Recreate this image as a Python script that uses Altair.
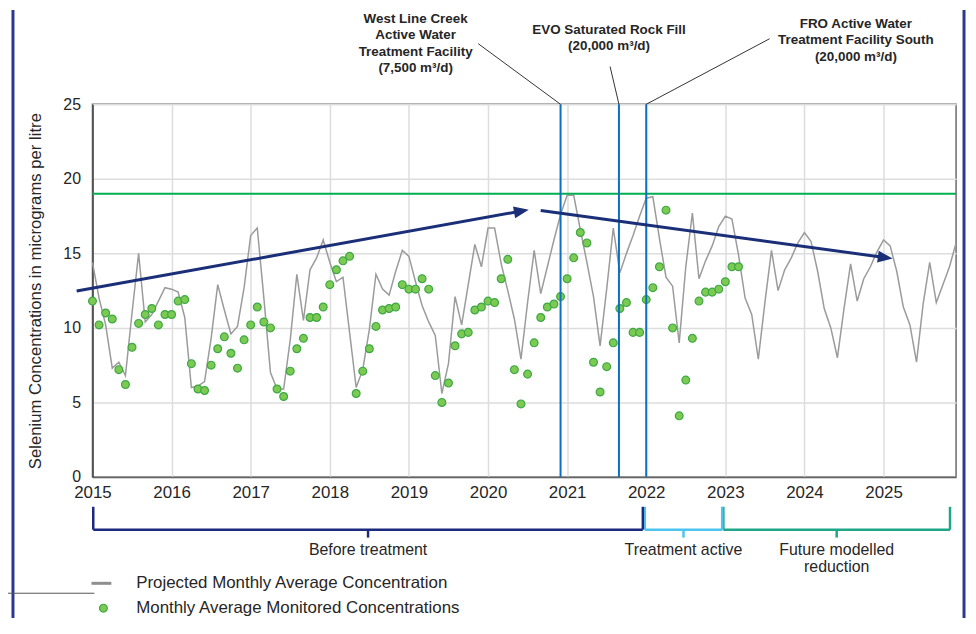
import math
import altair as alt
import pandas as pd

# ---------------- data ----------------
START_YEAR = 2015

projected = [
    14.4, 12.0, 10.2, 7.3, 7.7, 6.8, 11.0, 15.0, 10.4, 10.9, 11.8, 12.7,
    12.6, 12.4, 10.7, 6.0, 6.1, 6.4, 9.3, 12.9, 11.2, 9.6, 10.1, 12.7,
    16.2, 16.7, 12.0, 7.0, 5.9, 5.9, 9.2, 13.6, 10.5, 13.9, 14.7, 15.9,
    14.4, 13.1, 13.4, 9.7, 6.0, 7.2, 9.9, 13.6, 12.6, 12.2, 13.8, 15.2,
    14.8, 13.1, 11.5, 10.4, 9.5, 5.6, 7.6, 12.1, 10.2, 12.9, 15.6, 14.1,
    16.7, 16.7, 14.3, 12.5, 10.6, 7.9, 11.7, 15.2, 12.3, 14.1, 15.9, 17.6,
    18.9, 18.9, 16.6, 14.4, 12.1, 8.8, 12.6, 16.7, 13.7, 15.0, 16.2, 17.5,
    18.7, 18.8, 16.0, 13.4, 12.8, 9.0, 14.1, 17.7, 13.3, 14.5, 15.5, 16.8,
    17.5, 17.3, 14.9, 12.0, 10.9, 7.9, 11.7, 15.2, 12.5, 13.9, 14.7, 15.7,
    16.4, 15.8, 13.8, 11.3, 10.0, 8.0, 11.3, 14.3, 11.8, 13.3, 14.1, 15.1,
    15.9, 15.5, 13.8, 11.4, 10.2, 7.7, 11.6, 14.4, 11.7, 12.9, 14.1, 15.7,
]

monitored = [
    11.8, 10.2, 11.0, 10.6, 7.2, 6.2, 8.7, 10.3, 10.9, 11.3, 10.2, 10.9,
    10.9, 11.8, 11.9, 7.6, 5.9, 5.8, 7.5, 8.6, 9.4, 8.3, 7.3, 9.2,
    10.2, 11.4, 10.4, 10.0, 5.9, 5.4, 7.1, 8.6, 9.3, 10.7, 10.7, 11.4,
    12.9, 13.9, 14.5, 14.8, 5.6, 7.1, 8.6, 10.1, 11.2, 11.3, 11.4, 12.9,
    12.6, 12.6, 13.3, 12.6, 6.8, 5.0, 6.3, 8.8, 9.6, 9.7, 11.2, 11.4,
    11.8, 11.7, 13.3, 14.6, 7.2, 4.9, 6.9, 9.0, 10.7, 11.4, 11.6, 12.1,
    13.3, 14.7, 16.4, 15.7, 7.7, 5.7, 7.4, 9.0, 11.3, 11.7, 9.7, 9.7,
    11.9, 12.7, 14.1, 17.9, 10.0, 4.1, 6.5, 9.3, 11.8, 12.4, 12.4, 12.6,
    13.1, 14.1, 14.1,
]

year_ticks = list(range(2015, 2026))
y_ticks = [0, 5, 10, 15, 20, 25]
threshold = [19]

facility_labels = [
    "West Line Creek\nActive Water\nTreatment Facility\n(7,500 m³/d)",
    "EVO Saturated Rock Fill\n(20,000 m³/d)",
    "FRO Active Water\nTreatment Facility South\n(20,000 m³/d)",
]
facility_dates = [2020.917, 2021.655, 2022.0]
label_x = [2019.085, 2021.53, 2024.65]
label_top = [-93, -82, -88]
leader_x0 = [2019.876, 2021.543, 2023.56]
leader_y0 = [-61, -38, -66]

arrow_tail_x = [2014.80, 2020.666]
arrow_tail_y = [12.47, 17.87]
arrow_tip_x = [2020.515, 2025.115]
arrow_tip_y = [17.93, 14.65]

period_labels = ["Before treatment", "Treatment active", "Future modelled\nreduction"]
period_start = [2015.01, 2021.982, 2022.975]
period_end = [2021.957, 2022.96, 2025.84]
period_colors = ["#1b2a7e", "#4cc4ef", "#1ea688"]

legend_labels = ["Projected Monthly Average Concentration",
                 "Monthly Average Monitored Concentrations"]

# ---------------- geometry ----------------
W, H = 869, 375
x_dom = [START_YEAR, START_YEAR + (len(projected) - 1) / 12]
px_x = W / (x_dom[1] - x_dom[0])
px_y = H / 25.0

NAVY = "#1a2f78"
FONT = "Liberation Sans"
TXT = "#262626"

proj_df = pd.DataFrame({"t": [START_YEAR + i / 12 for i in range(len(projected))],
                        "v": projected})
mon_df = pd.DataFrame({"t": [START_YEAR + i / 12 for i in range(len(monitored))],
                       "v": monitored})

# arrows
arrow_rows = []
for tx, ty, hx, hy in zip(arrow_tail_x, arrow_tail_y, arrow_tip_x, arrow_tip_y):
    dxp = (hx - tx) * px_x
    dyp = -(hy - ty) * px_y
    ln = math.hypot(dxp, dyp)
    ux, uy = dxp / ln, dyp / ln
    ang = math.degrees(math.atan2(dyp, dxp)) % 360
    arrow_rows.append({"x0": tx, "y0": ty,
                       "x1": hx - 10 * ux / px_x, "y1": hy + 10 * uy / px_y,
                       "hx": hx, "hy": hy, "ang": ang})
arrow_df = pd.DataFrame(arrow_rows)

fac_df = pd.DataFrame({"x": facility_dates, "lx": label_x, "ly": label_top,
                       "text": facility_labels, "x0": leader_x0, "y0": leader_y0,
                       "z": [0, 0, 0]})

per_df = pd.DataFrame({"x0": period_start, "x1": period_end, "c": period_colors,
                       "text": period_labels})
per_df["xm"] = (per_df["x0"] + per_df["x1"]) / 2

x_scale = alt.Scale(domain=x_dom, nice=False, zero=False)
y_scale = alt.Scale(domain=[0, 25], nice=False)

x_axis = alt.Axis(values=year_ticks, format="d", labelFontSize=17, labelFont=FONT,
                  labelColor=TXT, labelPadding=8, ticks=False, domainColor="#666666",
                  domainWidth=1.5, gridColor="#dddddd", gridWidth=1.5, title=None,
                  labelFlush=False, labelOverlap=False)
y_axis = alt.Axis(values=y_ticks, labelFontSize=16, labelFont=FONT, labelColor=TXT,
                  labelPadding=12, ticks=False, domainColor="#333333", domainWidth=1.5,
                  gridColor="#dddddd", gridWidth=1.5,
                  title="Selenium Concentrations in micrograms per litre",
                  titleFontSize=16.8, titleFont=FONT, titleFontWeight="normal",
                  titleColor=TXT, titlePadding=18)


def X(field):
    return alt.X(field, scale=x_scale, axis=x_axis)


def Y(field):
    return alt.Y(field, scale=y_scale, axis=y_axis)


line = alt.Chart(proj_df).mark_line(color="#9b9b9b", strokeWidth=1.5).encode(
    x=X("t:Q"), y=Y("v:Q"))

points = alt.Chart(mon_df).mark_point(filled=True, size=62, fill="#7cca52",
                                      stroke="#3da845", strokeWidth=1.2,
                                      opacity=1).encode(x=X("t:Q"), y=Y("v:Q"))

thr = alt.Chart(pd.DataFrame({"v": threshold})).mark_rule(
    color="#00b050", strokeWidth=2).encode(y=Y("v:Q"))

fac_rules = alt.Chart(fac_df).mark_rule(color="#0b6fc3", strokeWidth=2).encode(
    x=X("x:Q"))

leaders = alt.Chart(fac_df).mark_rule(color="#333333", strokeWidth=1).encode(
    x=X("x0:Q"), x2="x:Q",
    y=alt.Y("y0:Q", scale=None), y2=alt.Y2("z:Q"))

fac_text = alt.Chart(fac_df).mark_text(
    font=FONT, fontSize=13.5, fontWeight="bold", color=TXT, align="center",
    baseline="top", lineBreak="\n", lineHeight=16.5).encode(
    x=X("lx:Q"), y=alt.Y("ly:Q", scale=None), text="text:N")

arrow_lines = alt.Chart(arrow_df).mark_rule(color=NAVY, strokeWidth=3).encode(
    x=X("x0:Q"), x2="x1:Q", y=Y("y0:Q"), y2="y1:Q")

arrow_heads = alt.Chart(arrow_df).mark_point(
    shape="M0,0 L-2,-0.8 L-2,0.8 Z", filled=True, size=225, color=NAVY,
    opacity=1, strokeWidth=0).encode(
    x=X("hx:Q"), y=Y("hy:Q"), angle=alt.Angle("ang:Q", scale=None))

BR_Y, BR_TOP, BR_TICK = 428, 405, 436
br_h = alt.Chart(per_df).mark_rule(strokeWidth=2.5).encode(
    x=X("x0:Q"), x2="x1:Q", y=alt.value(BR_Y), color=alt.Color("c:N", scale=None))
br_l = alt.Chart(per_df).mark_rule(strokeWidth=2.5).encode(
    x=X("x0:Q"), y=alt.value(BR_TOP), y2=alt.value(BR_Y),
    color=alt.Color("c:N", scale=None))
br_r = alt.Chart(per_df).mark_rule(strokeWidth=2.5).encode(
    x=X("x1:Q"), y=alt.value(BR_TOP), y2=alt.value(BR_Y),
    color=alt.Color("c:N", scale=None))
br_m = alt.Chart(per_df).mark_rule(strokeWidth=2.5).encode(
    x=X("xm:Q"), y=alt.value(BR_Y), y2=alt.value(BR_TICK),
    color=alt.Color("c:N", scale=None))
br_t = alt.Chart(per_df).mark_text(
    font=FONT, fontSize=16, color=TXT, align="center", baseline="top",
    lineBreak="\n", lineHeight=17).encode(
    x=X("xm:Q"), y=alt.value(441), text="text:N")

leg_df = pd.DataFrame({"text": legend_labels, "ly": [482, 507]})
leg_line = alt.Chart(leg_df.iloc[:1]).mark_rule(color="#8f8f8f", strokeWidth=3).encode(
    x=alt.value(-1), x2=alt.value(19), y=alt.value(482))
leg_pt = alt.Chart(leg_df.iloc[1:]).mark_point(
    filled=True, size=62, fill="#7cca52", stroke="#3da845", strokeWidth=1.2,
    opacity=1).encode(x=alt.value(11), y=alt.value(507))
leg_txt = alt.Chart(leg_df).mark_text(
    font=FONT, fontSize=17, color=TXT, align="left", baseline="middle").encode(
    x=alt.value(44), y=alt.Y("ly:Q", scale=None), text="text:N")

frame_df = pd.DataFrame({"x": [-80, 877]})
frame = alt.Chart(frame_df).mark_rule(color="#2b3a8c", strokeWidth=3).encode(
    x=alt.X("x:Q", scale=None), y=alt.value(-95), y2=alt.value(520))
stub = alt.Chart(pd.DataFrame({"a": [0]})).mark_rule(color="#555555", strokeWidth=1).encode(
    x=alt.value(-86), x2=alt.value(2), y=alt.value(492))

chart = alt.layer(
    line, points, thr, fac_rules, leaders, fac_text, arrow_lines, arrow_heads,
    br_h, br_l, br_r, br_m, br_t, leg_line, leg_pt, leg_txt, frame, stub,
).properties(
    width=W, height=H,
    autosize=alt.AutoSizeParams(type="none"),
    padding={"left": 85, "top": 95, "right": 12, "bottom": 140},
    background="white",
).configure(font=FONT).configure_view(stroke="#6b6b6b", strokeWidth=1.5)

chart.save("out.html", embed_options={"renderer": "svg", "actions": False})
